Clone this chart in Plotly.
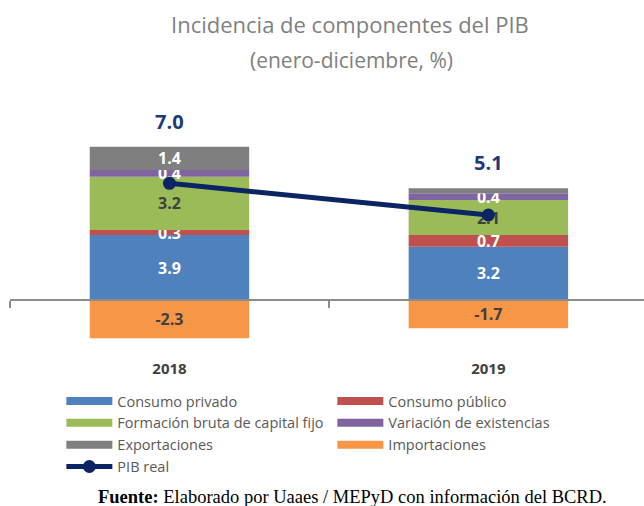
import plotly.graph_objects as go

years = ["2018", "2019"]
consumo_privado = [3.9, 3.2]
consumo_publico = [0.3, 0.7]
fbkf = [3.2, 2.1]
var_existencias = [0.4, 0.4]
exportaciones = [1.4, 0.3]
importaciones = [-2.3, -1.7]
pib_real = [7.0, 5.1]

series = [
    ("Consumo privado", consumo_privado, "#4F81BD", "white", [True, True]),
    ("Consumo público", consumo_publico, "#C0504D", "white", [True, True]),
    ("Formación bruta de capital fijo", fbkf, "#9BBB59", "#404040", [True, True]),
    ("Variación de existencias", var_existencias, "#8064A2", "white", [True, True]),
    ("Exportaciones", exportaciones, "#7F7F7F", "white", [True, False]),
    ("Importaciones", importaciones, "#F79646", "#404040", [True, True]),
]

FONT = "Open Sans"
NAVY = "#0B2463"
fig = go.Figure()
for name, vals, color, tcol, show in series:
    fig.add_trace(go.Bar(
        x=years, y=vals, name=name, marker=dict(color=color, line=dict(width=0)),
        text=[f"{v:.1f}" if s else "" for v, s in zip(vals, show)],
        textposition="inside", insidetextanchor="middle", constraintext="none",
        textangle=0, textfont=dict(family=FONT, size=16, color=tcol, weight="bold"),
        hoverinfo="skip", showlegend=False,
    ))

# legend-only entries (wide swatches like the original)
for name, vals, color, tcol, show in series:
    fig.add_trace(go.Scatter(
        x=[None], y=[None], mode="lines", name=name,
        line=dict(color=color, width=8), hoverinfo="skip",
    ))

fig.add_trace(go.Scatter(
    x=years, y=pib_real, name="PIB real", mode="lines+markers", xaxis="x2",
    line=dict(color=NAVY, width=5), marker=dict(color=NAVY, size=13),
))

# totals above stacks
for i, yr in enumerate(years):
    top = sum(max(s[1][i], 0) for s in series)
    fig.add_annotation(x=i, y=top, text=f"<b>{pib_real[i]:.1f}</b>", showarrow=False,
                       yanchor="bottom", yshift=10,
                       font=dict(family=FONT, size=20, color="#1F3A7A"))

fig.add_annotation(xref="paper", yref="paper", x=(350 - 10) / 634, y=1.0 + 76/245,
                   text="Incidencia de componentes del PIB", showarrow=False,
                   font=dict(family=FONT, size=22, color="#7F7F7F"), yanchor="middle")
fig.add_annotation(xref="paper", yref="paper", x=(351 - 10) / 634, y=1.0 + 40/245,
                   text="(enero-diciembre, %)", showarrow=False,
                   font=dict(family=FONT, size=21, color="#7F7F7F"), yanchor="middle")
fig.add_annotation(xref="paper", yref="paper", x=(352 - 10) / 634, y=(345 - 497) / 245,
                   text="<b>Fuente:</b> Elaborado por Uaaes / MEPyD con información del BCRD.",
                   showarrow=False, yanchor="middle",
                   font=dict(family="Liberation Serif", size=18.5, color="black"))

XR = [-0.5, 1.488]
fig.update_layout(
    width=644, height=506, barmode="relative", bargap=0.5,
    margin=dict(l=10, r=0, t=100, b=161, autoexpand=False),
    plot_bgcolor="white", paper_bgcolor="white",
    font=dict(family=FONT, color="#595959"),
    xaxis=dict(type="category", range=XR, showgrid=False, showline=False, ticks="",
               ticklabelstandoff=13,
               tickfont=dict(family=FONT, size=15, color="#404040", weight="bold")),
    xaxis2=dict(type="category", range=XR, overlaying="x", anchor="free",
                position=(345 - 300) / 245, categoryorder="array", categoryarray=years,
                showline=True, linecolor="#8C8C8C", linewidth=2, showgrid=False,
                ticks="outside", tickson="boundaries", ticklen=7, tickwidth=2,
                tickcolor="#8C8C8C", showticklabels=False),
    yaxis=dict(range=[-2.7, 12.0], showticklabels=False, showgrid=False,
               zeroline=False, ticks=""),
    legend=dict(orientation="h", x=0.081, xanchor="left", y=(345 - 385) / 245, yanchor="top",
                entrywidth=210, entrywidthmode="pixels", itemwidth=46, traceorder="normal",
                font=dict(family=FONT, size=14.5, color="#595959"), tracegroupgap=0),
    showlegend=True,
)
fig.write_html("out.html", config={"displayModeBar": False},
               post_script="document.body.style.margin='0';")
